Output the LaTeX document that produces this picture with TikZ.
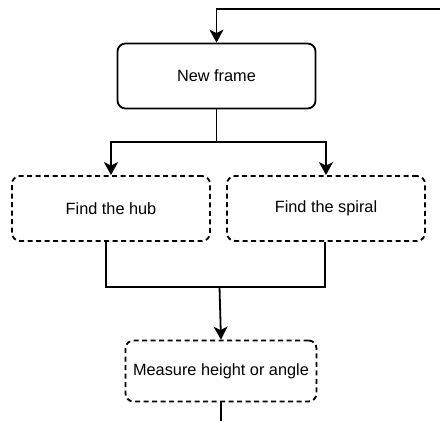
\documentclass[tikz,border=0pt]{standalone}
\usepackage{fontspec}
\setmainfont{Liberation Sans}
\usetikzlibrary{arrows.meta}
\begin{document}
\begin{tikzpicture}[x=1pt,y=-1pt,
  box/.style={draw,line width=1.8pt,rounded corners=8pt,fill=white,
    minimum width=198pt,minimum height=65pt,inner sep=0pt,
    font=\fontsize{16.3}{19}\selectfont},
  dbox/.style={box,dash pattern=on 5pt off 3.5pt},
  conn/.style={line width=1.8pt},
  arr/.style={conn,-{Stealth[length=13pt,width=14pt,inset=3.5pt]}}]
\useasboundingbox (0,0) rectangle (440,421);
\node[box] (nf) at (216.5,76) {New frame};
\node[dbox] (hub) at (111,208.5) {Find the hub};
\node[dbox] (spiral) at (326,208.5) {Find the spiral};
\node[dbox,minimum width=191pt,minimum height=61pt] (meas) at (221,371) {Measure height or angle};
\coordinate (tr) at (440,9);
\coordinate (split) at (216.5,142);
\coordinate (jl) at (106,287);
\coordinate (jr) at (325,287);
\coordinate (jm) at (219.5,287);
\coordinate (bot) at (221,421);
\draw[arr] (tr) -| (nf.north);
\draw[arr] (nf.south) -- (split) -| (hub.north);
\draw[arr] (split) -| (spiral.north);
\draw[conn,line width=2.2pt] (hub.south -| jl) -- (jl) -- (jr) -- (spiral.south -| jr);
\draw[arr] (jm) -- (meas.north);
\draw[conn] (meas.south) -- (bot);
\end{tikzpicture}
\end{document}
